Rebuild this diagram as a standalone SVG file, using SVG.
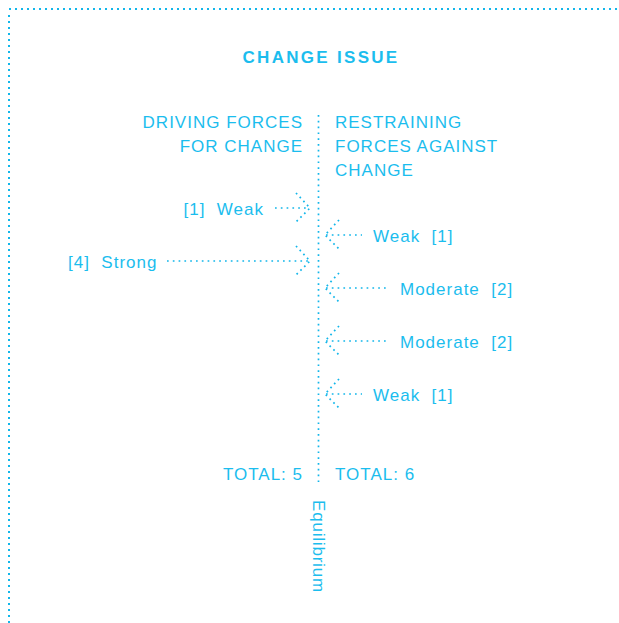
<svg xmlns="http://www.w3.org/2000/svg" width="619" height="623" viewBox="0 0 619 623">
<defs>
<style>
.t{font-family:"Liberation Sans",Arial,sans-serif;font-size:17px;fill:#1bbdee;letter-spacing:1px;white-space:pre}
.h{font-family:"Liberation Sans",Arial,sans-serif;font-size:17px;font-weight:bold;fill:#1bbdee;letter-spacing:2.3px}
.b{fill:none;stroke:#12b6ea;stroke-width:2;stroke-dasharray:2 4}
.d{fill:none;stroke:#12b6ea;stroke-width:1.7;stroke-dasharray:1.7 4.1}
.a{fill:none;stroke:#12b6ea;stroke-width:1.7;stroke-dasharray:1.7 3.7}
</style>
</defs>
<rect width="619" height="623" fill="#ffffff"/>
<g id="frame">
<line class="b" x1="9" y1="9" x2="619" y2="9"/>
<line class="b" x1="9" y1="15" x2="9" y2="623"/>
</g>
<g id="title"><text class="h" x="321" y="63" text-anchor="middle">CHANGE ISSUE</text></g>
<g id="equilibrium-line"><line class="d" x1="318.5" y1="115" x2="318.5" y2="482"/></g>
<g id="driving-header"><text class="t" x="303" y="128" text-anchor="end">DRIVING FORCES</text><text class="t" x="303" y="152" text-anchor="end">FOR CHANGE</text></g>
<g id="restraining-header"><text class="t" x="335" y="128">RESTRAINING</text><text class="t" x="335" y="152">FORCES AGAINST</text><text class="t" x="335" y="176">CHANGE</text></g>
<g id="connectors">
<line class="d" x1="275" y1="208" x2="309" y2="208"/>
<path class="a" d="M296 193 L310 208 L296 222"/>
<line class="d" x1="167" y1="261" x2="309" y2="261"/>
<path class="a" d="M296 246 L310 261 L296 275"/>
<line class="d" x1="326" y1="235" x2="362" y2="235"/>
<path class="a" d="M339 220 L325 235 L339 249"/>
<line class="d" x1="326" y1="288" x2="388" y2="288"/>
<path class="a" d="M339 273 L325 288 L339 302"/>
<line class="d" x1="326" y1="341" x2="388" y2="341"/>
<path class="a" d="M339 326 L325 341 L339 355"/>
<line class="d" x1="326" y1="394" x2="362" y2="394"/>
<path class="a" d="M339 379 L325 394 L339 408"/>
</g>
<g id="driving-weak"><text class="t" x="264" y="215" text-anchor="end" xml:space="preserve">[1]  Weak</text></g>
<g id="driving-strong"><text class="t" x="68" y="268" xml:space="preserve">[4]  Strong</text></g>
<g id="restrain-weak-1"><text class="t" x="373" y="242" xml:space="preserve">Weak  [1]</text></g>
<g id="restrain-moderate-1"><text class="t" x="400" y="295" xml:space="preserve">Moderate  [2]</text></g>
<g id="restrain-moderate-2"><text class="t" x="400" y="348" xml:space="preserve">Moderate  [2]</text></g>
<g id="restrain-weak-2"><text class="t" x="373" y="401" xml:space="preserve">Weak  [1]</text></g>
<g id="total-driving"><text class="t" x="303" y="480" text-anchor="end">TOTAL: 5</text></g>
<g id="total-restraining"><text class="t" x="335" y="480">TOTAL: 6</text></g>
<g id="equilibrium-label"><text class="t" transform="translate(313 500) rotate(90)" style="letter-spacing:0.8px">Equilibrium</text></g>
</svg>
